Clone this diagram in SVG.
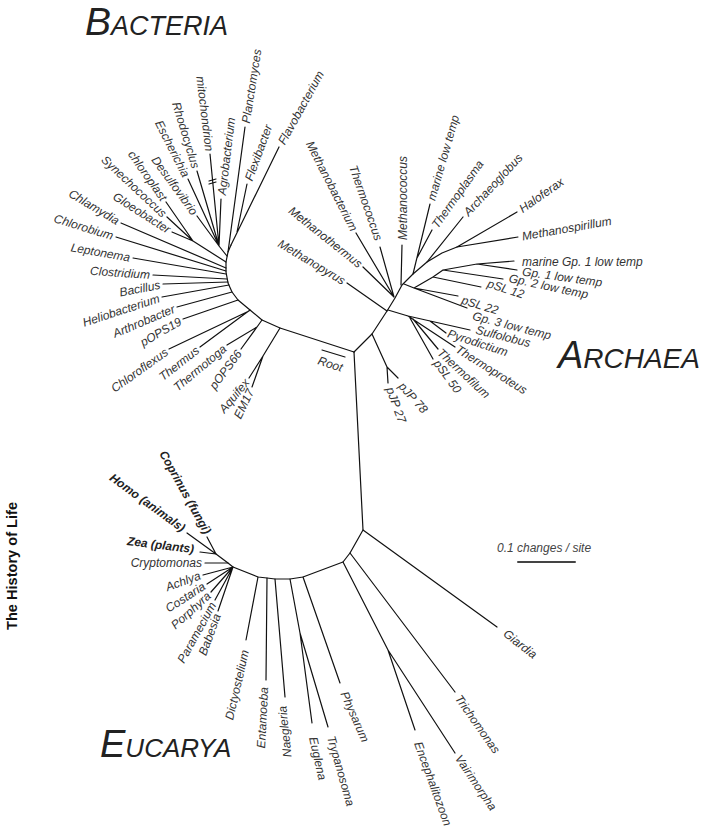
<svg xmlns="http://www.w3.org/2000/svg" width="703" height="831" viewBox="0 0 703 831">
<style>
.br{fill:none;stroke:#111;stroke-width:1.2;stroke-linecap:round;stroke-linejoin:round}
.l{font-family:"Liberation Sans",Arial,Helvetica,sans-serif;font-style:italic;font-size:12px;fill:#333}
.b{font-family:"Liberation Sans",Arial,Helvetica,sans-serif;font-style:italic;font-weight:bold;font-size:12px;fill:#222}
.e{text-anchor:end}
.big{font-family:"Liberation Sans",Arial,Helvetica,sans-serif;font-style:italic;fill:#222}
.title{font-family:"Liberation Sans",Arial,sans-serif;font-weight:bold;font-size:14px;fill:#111;text-anchor:middle}
</style>
<rect width="703" height="831" fill="#fff"/>
<g id="connectors" class="br">
<polyline points="354,352 280,328 262,320 250,310 238,300 232,292 228,283 226,272 226,262 228,252 231,245"/>
<path d="M280,328L263,356M263,356L249,378M263,356L252,387"/>
<path d="M262,320L257,327M257,327L227,345M257,327L241,349"/>
<path d="M250,310L200,347M249,311L169,349M238,300L183,319M232,292L177,307M229,285L162,297M228,282L163,284M227,279L153,275M226,274L133,258M226,271L116,237M226,268L121,223"/>
<path d="M226,262L193,241M193,241L172,232M193,241L167,217M193,241L166,202"/>
<path d="M227,256L219,246M219,246L221,199M219,246L210,154M219,246L197,171M219,246L188,179M219,246L197,216"/>
<path d="M228,252L245,127M231,245L279,147M237,232L247,184"/>
<path d="M209,181L216,179M209,184L216,182"/>
<polyline points="354,352 372,334 387,311 395,298 402,285 413,274 427,262 442,253 457,247"/>
<path d="M372,334L387,367M387,367L398,378M387,367L388,383"/>
<path d="M387,311L347,283"/>
<path d="M388,310L408,316M408,316L470,330M430,321L446,333M408,316L455,347M413,319L438,349M410,318L433,359"/>
<path d="M394,297L363,267M394,297L356,233M394,297L380,247M401,285L402,245"/>
<path d="M404,284L414,288M414,288L458,296M414,288L467,308M414,288L433,277M433,277L481,287M433,277L443,270M443,270L503,279M443,270L477,264M477,264L514,261M477,264L517,270"/>
<path d="M413,274L430,204M417,258L432,230M427,262L463,217M457,247L517,212M457,247L518,237"/>
<polyline points="354,352 363,530 350,553 343,562 303,577 290,579 275,579 267,578 258,577 233,567 228,563 216,554"/>
<path d="M363,530L497,627M350,553L455,692M343,562L388,650M388,650L415,730M388,650L455,753M303,577L340,683M290,579L300,633M300,633L312,723M300,633L328,727M275,579L285,697M267,578L266,680M258,577L246,640"/>
<path d="M233,567L203,575M233,567L207,584M233,567L211,592M233,567L215,600M233,567L218,611M228,563L205,563M216,554L200,552M216,554L187,533M216,554L207,537"/>
<path d="M322,350L345,357"/>
<path d="M518,562L575,562" style="stroke:#444;stroke-width:2"/>
</g>
<g id="domains">
<text class="big" x="85" y="35"><tspan font-size="39">B</tspan><tspan font-size="27">ACTERIA</tspan></text>
<text class="big" x="558" y="368"><tspan font-size="38">A</tspan><tspan font-size="28">RCHAEA</tspan></text>
<text class="big" x="100" y="757"><tspan font-size="38">E</tspan><tspan font-size="26">UCARYA</tspan></text>
</g>
<text class="title" transform="translate(17,566) rotate(-90)" textLength="128" lengthAdjust="spacingAndGlyphs">The History of Life</text>
<g id="scale"><text class="l" x="497" y="552" style="fill:#444">0.1 changes / site</text></g>
<g id="root"><text class="l" transform="translate(317,364) rotate(18)">Root</text></g>
<g id="bacteria">
<g id="n-flavobacterium"><text class="l" transform="translate(281,143.5) rotate(-61)" dy="0.35em">Flavobacterium</text></g>
<g id="n-planctomyces"><text class="l" transform="translate(245.6,123) rotate(-81)" dy="0.35em">Planctomyces</text></g>
<g id="n-flexibacter"><text class="l" transform="translate(248.4,180.2) rotate(-70)" dy="0.35em">Flexibacter</text></g>
<g id="n-agrobacterium"><text class="l" transform="translate(221.5,195) rotate(-83)" dy="0.35em">Agrobacterium</text></g>
<g id="n-mitochondrion"><text class="l e" transform="translate(209.6,151) rotate(83)" dy="0.35em">mitochondrion</text></g>
<g id="n-rhodocyclus"><text class="l e" transform="translate(196.1,168) rotate(73)" dy="0.35em">Rhodocyclus</text></g>
<g id="n-escherichia"><text class="l e" transform="translate(186.6,176.3) rotate(63)" dy="0.35em">Escherichia</text></g>
<g id="n-desulfovibrio"><text class="l e" transform="translate(195.2,213.6) rotate(54)" dy="0.35em">Desulfovibrio</text></g>
<g id="n-chloroplast"><text class="l e" transform="translate(164.3,199.5) rotate(55)" dy="0.35em">chloroplast</text></g>
<g id="n-synechococcus"><text class="l e" transform="translate(164.8,215) rotate(43)" dy="0.35em">Synechococcus</text></g>
<g id="n-gloeobacter"><text class="l e" transform="translate(169.5,230.4) rotate(32.5)" dy="0.35em">Gloeobacter</text></g>
<g id="n-chlamydia"><text class="l e" transform="translate(118.4,221.5) rotate(31)" dy="0.35em">Chlamydia</text></g>
<g id="n-chlorobium"><text class="l e" transform="translate(113,236) rotate(17)" dy="0.35em">Chlorobium</text></g>
<g id="n-leptonema"><text class="l e" transform="translate(130,257.5) rotate(10)" dy="0.35em">Leptonema</text></g>
<g id="n-clostridium"><text class="l e" transform="translate(150,274.8) rotate(4)" dy="0.35em">Clostridium</text></g>
<g id="n-bacillus"><text class="l e" transform="translate(160.1,284.6) rotate(-11)" dy="0.35em">Bacillus</text></g>
<g id="n-heliobacterium"><text class="l e" transform="translate(159.1,297.9) rotate(-18)" dy="0.35em">Heliobacterium</text></g>
<g id="n-arthrobacter"><text class="l e" transform="translate(174.2,308.2) rotate(-23)" dy="0.35em">Arthrobacter</text></g>
<g id="n-pops19"><text class="l e" transform="translate(180.4,320.5) rotate(-30)" dy="0.35em">pOPS19</text></g>
<g id="n-chloroflexus"><text class="l e" transform="translate(166.6,350.7) rotate(-35.5)" dy="0.35em">Chloroflexus</text></g>
<g id="n-thermus"><text class="l e" transform="translate(197.6,348.8) rotate(-38)" dy="0.35em">Thermus</text></g>
<g id="n-thermotoga"><text class="l e" transform="translate(224.7,346.9) rotate(-40)" dy="0.35em">Thermotoga</text></g>
<g id="n-pops66"><text class="l e" transform="translate(239.2,351.4) rotate(-53)" dy="0.35em">pOPS66</text></g>
<g id="n-aquifex"><text class="l e" transform="translate(247,380.3) rotate(-50)" dy="0.35em">Aquifex</text></g>
<g id="n-em17"><text class="l e" transform="translate(250.7,389.7) rotate(-64)" dy="0.35em">EM17</text></g>
</g>
<g id="archaea">
<g id="n-methanopyrus"><text class="l e" transform="translate(344.4,281.5) rotate(31)" dy="0.35em">Methanopyrus</text></g>
<g id="n-methanothermus"><text class="l e" transform="translate(360.7,265.1) rotate(38.6)" dy="0.35em">Methanothermus</text></g>
<g id="n-methanobacterium"><text class="l e" transform="translate(354.6,230.3) rotate(63)" dy="0.35em">Methanobacterium</text></g>
<g id="n-thermococcus"><text class="l e" transform="translate(379,240) rotate(70.7)" dy="0.35em">Thermococcus</text></g>
<g id="n-methanococcus"><text class="l" transform="translate(403,240) rotate(-90)" dy="0.35em">Methanococcus</text></g>
<g id="n-marinelow"><text class="l" transform="translate(431,200) rotate(-74)" dy="0.35em">marine low temp</text></g>
<g id="n-thermoplasma"><text class="l" transform="translate(434.3,226.7) rotate(-54.5)" dy="0.35em">Thermoplasma</text></g>
<g id="n-archaeoglobus"><text class="l" transform="translate(465.7,214) rotate(-47)" dy="0.35em">Archaeoglobus</text></g>
<g id="n-haloferax"><text class="l" transform="translate(520.3,209.7) rotate(-35)" dy="0.35em">Haloferax</text></g>
<g id="n-methanospirillum"><text class="l" transform="translate(522,236.3) rotate(-10)" dy="0.35em">Methanospirillum</text></g>
<g id="n-marinegp1"><text class="l" transform="translate(522,262) rotate(0)" dy="0.35em">marine Gp. 1 low temp</text></g>
<g id="n-gp1"><text class="l" transform="translate(522.3,271.3) rotate(8)" dy="0.35em">Gp. 1 low temp</text></g>
<g id="n-gp2"><text class="l" transform="translate(509.1,277.8) rotate(12)" dy="0.35em">Gp. 2 low temp</text></g>
<g id="n-psl12"><text class="l" transform="translate(487.9,282.9) rotate(18)" dy="0.35em">pSL 12</text></g>
<g id="n-psl22"><text class="l" transform="translate(461.9,299.5) rotate(17)" dy="0.35em">pSL 22</text></g>
<g id="n-gp3"><text class="l" transform="translate(472.8,315.5) rotate(14.5)" dy="0.35em">Gp. 3 low temp</text></g>
<g id="n-sulfolobus"><text class="l" transform="translate(476,329.5) rotate(14)" dy="0.35em">Sulfolobus</text></g>
<g id="n-pyrodictium"><text class="l" transform="translate(448,333) rotate(18)" dy="0.35em">Pyrodictium</text></g>
<g id="n-thermoproteus"><text class="l" transform="translate(457.1,348) rotate(32)" dy="0.35em">Thermoproteus</text></g>
<g id="n-thermofilum"><text class="l" transform="translate(439.4,350.6) rotate(43)" dy="0.35em">Thermofilum</text></g>
<g id="n-psl50"><text class="l" transform="translate(436.5,361) rotate(54)" dy="0.35em">pSL 50</text></g>
<g id="n-pjp78"><text class="l" transform="translate(401,384) rotate(48)" dy="0.35em">pJP 78</text></g>
<g id="n-pjp27"><text class="l" transform="translate(390,387.6) rotate(70)" dy="0.35em">pJP 27</text></g>
</g>
<g id="eucarya">
<g id="n-giardia"><text class="l" transform="translate(505,632) rotate(38)" dy="0.35em">Giardia</text></g>
<g id="n-trichomonas"><text class="l" transform="translate(458,696) rotate(55)" dy="0.35em">Trichomonas</text></g>
<g id="n-encephalitozoon"><text class="l" transform="translate(418,742) rotate(70)" dy="0.35em">Encephalitozoon</text></g>
<g id="n-vairimorpha"><text class="l" transform="translate(458,756) rotate(56)" dy="0.35em">Vairimorpha</text></g>
<g id="n-physarum"><text class="l" transform="translate(344,692) rotate(66)" dy="0.35em">Physarum</text></g>
<g id="n-trypanosoma"><text class="l" transform="translate(331,736) rotate(74)" dy="0.35em">Trypanosoma</text></g>
<g id="n-euglena"><text class="l" transform="translate(313,737) rotate(77)" dy="0.35em">Euglena</text></g>
<g id="n-naegleria"><text class="l e" transform="translate(282,706) rotate(-96)" dy="0.35em">Naegleria</text></g>
<g id="n-entamoeba"><text class="l e" transform="translate(264,687) rotate(-87)" dy="0.35em">Entamoeba</text></g>
<g id="n-dictyostelium"><text class="l e" transform="translate(245,650) rotate(-77)" dy="0.35em">Dictyostelium</text></g>
<g id="n-babesia"><text class="l e" transform="translate(217,614) rotate(-70)" dy="0.35em">Babesia</text></g>
<g id="n-paramecium"><text class="l e" transform="translate(213,603) rotate(-61)" dy="0.35em">Paramecium</text></g>
<g id="n-porphyra"><text class="l e" transform="translate(209,594) rotate(-42)" dy="0.35em">Porphyra</text></g>
<g id="n-costaria"><text class="l e" transform="translate(204,585) rotate(-33)" dy="0.35em">Costaria</text></g>
<g id="n-achlya"><text class="l e" transform="translate(200,575) rotate(-20)" dy="0.35em">Achlya</text></g>
<g id="n-cryptomonas"><text class="l e" transform="translate(202,562.5)" dy="0.35em">Cryptomonas</text></g>
<g id="n-zea"><text class="b e" transform="translate(194,549) rotate(7)" dy="0.35em">Zea (plants)</text></g>
<g id="n-homo"><text class="b e" transform="translate(184,529) rotate(36)" dy="0.35em">Homo (animals)</text></g>
<g id="n-coprinus"><text class="b e" transform="translate(208,533) rotate(61)" dy="0.35em">Coprinus (fungi)</text></g>
</g>
</svg>
